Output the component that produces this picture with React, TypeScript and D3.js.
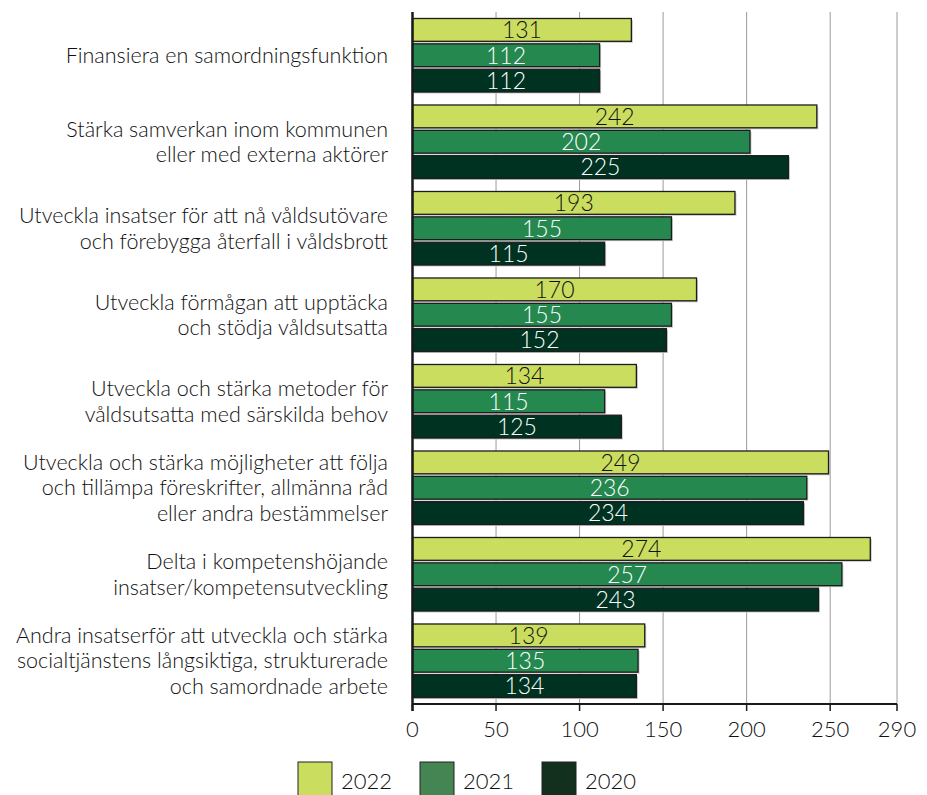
import * as d3 from "d3";
import { useEffect, useRef } from "react";

const categories = [
  ["Finansiera en samordningsfunktion"],
  ["Stärka samverkan inom kommunen", "eller med externa aktörer"],
  ["Utveckla insatser för att nå våldsutövare", "och förebygga återfall i våldsbrott"],
  ["Utveckla förmågan att upptäcka", "och stödja våldsutsatta"],
  ["Utveckla och stärka metoder för", "våldsutsatta med särskilda behov"],
  ["Utveckla och stärka möjligheter att följa", "och tillämpa föreskrifter, allmänna råd", "eller andra bestämmelser"],
  ["Delta i kompetenshöjande", "insatser/kompetensutveckling"],
  ["Andra insatserför att utveckla och stärka", "socialtjänstens långsiktiga, strukturerade", "och samordnade arbete"],
];

const seriesNames = ["2022", "2021", "2020"];
const values2022 = [131, 242, 193, 170, 134, 249, 274, 139];
const values2021 = [112, 202, 155, 155, 115, 236, 257, 135];
const values2020 = [112, 225, 115, 152, 125, 234, 243, 134];
const xTicks = [0, 50, 100, 150, 200, 250, 290];

const barColors = ["#cbdd5f", "#25884f", "#003222"];
const legendColors = ["#cbdd5f", "#448553", "#13301f"];
const labelColors = ["#111", "#fff", "#fff"];
const FONT = "Lato, 'Noto Sans', sans-serif";
const WEIGHT = 300;

const App = () => {
  const ref = useRef<SVGSVGElement>(null);

  useEffect(() => {
    const svg = d3.select(ref.current);
    const width = 927;
    const height = 795;
    svg.attr("width", width).attr("height", height);

    const left = 412.5;
    const right = 897;
    const top = 12;
    const bottom = 704;

    const series = [values2022, values2021, values2020];
    const idx = categories.map((_, i) => String(i));

    const x = d3.scaleLinear().domain([0, 290]).range([left, right]);
    const y = d3.scaleBand().domain(idx).range([top, bottom]).paddingInner(0.15).paddingOuter(0.075);
    const yInner = d3
      .scaleBand()
      .domain(seriesNames)
      .range([0, y.bandwidth()])
      .paddingInner(0.1);

    // gridlines
    svg
      .append("g")
      .selectAll("line")
      .data(xTicks.filter((t) => t > 0))
      .join("line")
      .attr("x1", (d) => x(d))
      .attr("x2", (d) => x(d))
      .attr("y1", top)
      .attr("y2", bottom)
      .attr("stroke", "#9a9a9a")
      .attr("stroke-width", 1);

    // bars
    seriesNames.forEach((name, s) => {
      const g = svg.append("g");
      const data = series[s];
      g.selectAll("rect.shadow")
        .data(data)
        .join("rect")
        .attr("class", "shadow")
        .attr("x", left + 1.5)
        .attr("y", (_, i) => y(String(i))! + yInner(name)! + 1.5)
        .attr("width", (d) => x(d) - left)
        .attr("height", yInner.bandwidth())
        .attr("fill", "#c8c8c8");
      g.selectAll("rect.bar")
        .data(data)
        .join("rect")
        .attr("class", "bar")
        .attr("x", left)
        .attr("y", (_, i) => y(String(i))! + yInner(name)!)
        .attr("width", (d) => x(d) - left)
        .attr("height", yInner.bandwidth())
        .attr("fill", barColors[s])
        .attr("stroke", "#1c1c1c")
        .attr("stroke-width", 1.3);
      g.selectAll("text")
        .data(data)
        .join("text")
        .attr("x", (d) => (left + x(d)) / 2)
        .attr("y", (_, i) => y(String(i))! + yInner(name)! + yInner.bandwidth() / 2)
        .attr("dy", "0.36em")
        .attr("text-anchor", "middle")
        .attr("font-family", FONT)
        .attr("font-weight", WEIGHT)
        .attr("font-size", 23)
        .attr("fill", labelColors[s])
        .text((d) => d);
    });

    // axes lines
    svg
      .append("line")
      .attr("x1", left)
      .attr("x2", right)
      .attr("y1", bottom)
      .attr("y2", bottom)
      .attr("stroke", "#1a1a1a")
      .attr("stroke-width", 2);
    svg
      .append("line")
      .attr("x1", left)
      .attr("x2", left)
      .attr("y1", top)
      .attr("y2", bottom + 7)
      .attr("stroke", "#1a1a1a")
      .attr("stroke-width", 2.5);

    svg
      .append("g")
      .selectAll("line")
      .data(xTicks)
      .join("line")
      .attr("x1", (d) => x(d))
      .attr("x2", (d) => x(d))
      .attr("y1", bottom)
      .attr("y2", bottom + 7)
      .attr("stroke", "#1a1a1a")
      .attr("stroke-width", 1.5);

    svg
      .append("g")
      .selectAll("text")
      .data(xTicks)
      .join("text")
      .attr("x", (d) => x(d))
      .attr("y", 737)
      .attr("text-anchor", "middle")
      .attr("font-family", FONT)
      .attr("font-weight", WEIGHT)
      .attr("font-size", 22)
      .attr("fill", "#111")
      .text((d) => d);

    // category labels
    const catG = svg.append("g");
    categories.forEach((lines, i) => {
      const cy = y(String(i))! + y.bandwidth() / 2;
      const lh = 25.5;
      const t = catG
        .append("text")
        .attr("text-anchor", "end")
        .attr("font-family", FONT)
        .attr("font-weight", WEIGHT)
        .attr("font-size", 21.5)
        .attr("fill", "#111");
      lines.forEach((line, j) => {
        t.append("tspan")
          .attr("x", 388)
          .attr("y", cy + (j - (lines.length - 1) / 2) * lh)
          .attr("dy", "0.35em")
          .text(line);
      });
    });

    // legend
    const legendX = [298, 420, 542];
    const lg = svg.append("g");
    seriesNames.forEach((name, s) => {
      lg.append("rect")
        .attr("x", legendX[s])
        .attr("y", 762)
        .attr("width", 34)
        .attr("height", 40)
        .attr("fill", legendColors[s])
        .attr("stroke", "#222")
        .attr("stroke-width", 1);
      lg.append("text")
        .attr("x", legendX[s] + 43)
        .attr("y", 789)
        .attr("font-family", FONT)
        .attr("font-weight", WEIGHT)
        .attr("font-size", 22)
        .attr("fill", "#111")
        .text(name);
    });

    return () => {
      svg.selectAll("*").remove();
    };
  }, []);

  return <svg ref={ref} style={{ position: "absolute", left: 0, top: 0 }}></svg>;
};

export default App;
